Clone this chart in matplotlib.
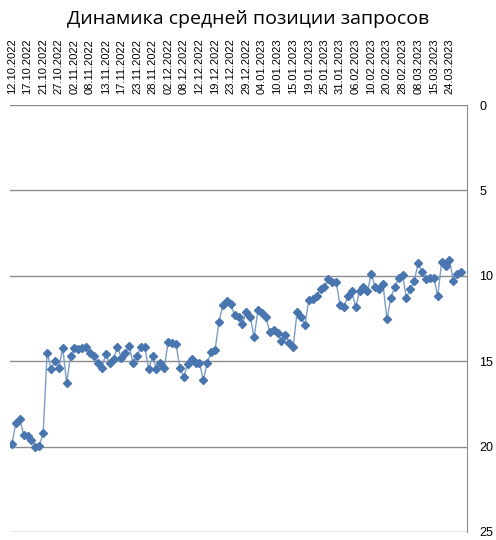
import matplotlib
matplotlib.use("Agg")
import matplotlib.pyplot as plt

tick_labels = ["12.10.2022","17.10.2022","21.10.2022","27.10.2022","02.11.2022","08.11.2022",
    "13.11.2022","17.11.2022","23.11.2022","28.11.2022","02.12.2022","08.12.2022","12.12.2022",
    "19.12.2022","23.12.2022","29.12.2022","04.01.2023","10.01.2023","15.01.2023","19.01.2023",
    "25.01.2023","31.01.2023","06.02.2023","10.02.2023","20.02.2023","28.02.2023","08.03.2023",
    "15.03.2023","24.03.2023"]

positions = [19.85,18.6,18.4,19.3,19.4,19.6,20.0,19.95,19.2,14.5,15.45,15.0,15.4,14.2,16.3,14.7,
    14.2,14.3,14.2,14.15,14.5,14.7,15.1,15.4,14.6,15.1,14.9,14.15,14.8,14.5,14.1,15.1,14.7,14.15,
    14.15,15.45,14.7,15.45,15.1,15.4,13.85,13.95,14.0,15.4,15.9,15.15,14.9,15.1,15.1,16.1,15.1,
    14.45,14.35,12.7,11.7,11.5,11.65,12.3,12.4,
    12.8,12.1,12.4,13.6,12.0,12.15,12.4,13.3,13.2,13.35,13.8,13.45,13.95,14.15,12.1,12.4,12.9,
    11.4,11.35,11.2,10.75,10.65,10.2,10.35,10.35,11.7,11.8,11.2,10.9,11.85,10.9,10.65,10.9,9.9,
    10.65,10.8,10.5,12.55,11.3,10.65,10.1,9.95,11.3,10.75,10.3,9.25,9.8,10.2,10.1,10.1,11.2,9.2,
    9.4,9.05,10.3,9.9,9.75]

fig = plt.figure(figsize=(4.96, 5.4), dpi=100)
ax = fig.add_axes([10/496, 8/540, 457/496, 427/540])
x = list(range(len(positions)))
ax.plot(x, positions, color="#7a9cc6", lw=1.0, marker="D", ms=3.6, mfc="#4a76b0", mec="#4a76b0", zorder=3)
ax.set_ylim(25, 0)
ax.set_xlim(-0.5, len(positions) + 0.5)
ax.set_yticks(range(0, 26, 5))
ax.yaxis.tick_right()
ax.tick_params(axis="y", length=0, pad=9, labelsize=9)
ax.set_xticks(range(0, 4 * len(tick_labels), 4))
ax.set_xticklabels(tick_labels, rotation=90, fontsize=8, family="Liberation Sans")
ax.xaxis.tick_top()
ax.tick_params(axis="x", length=0, pad=8)
for lab in ax.get_yticklabels():
    lab.set_family("Liberation Sans")
ax.grid(axis="y", color="#8c8c8c", lw=1)
for s in ["left", "bottom", "top"]:
    ax.spines[s].set_visible(False)
ax.spines["right"].set_color("#8c8c8c")
fig.text(0.5, 0.965, "Динамика средней позиции запросов", ha="center", va="center", fontsize=14, family="Open Sans")
fig.savefig("out.png", dpi=100)
